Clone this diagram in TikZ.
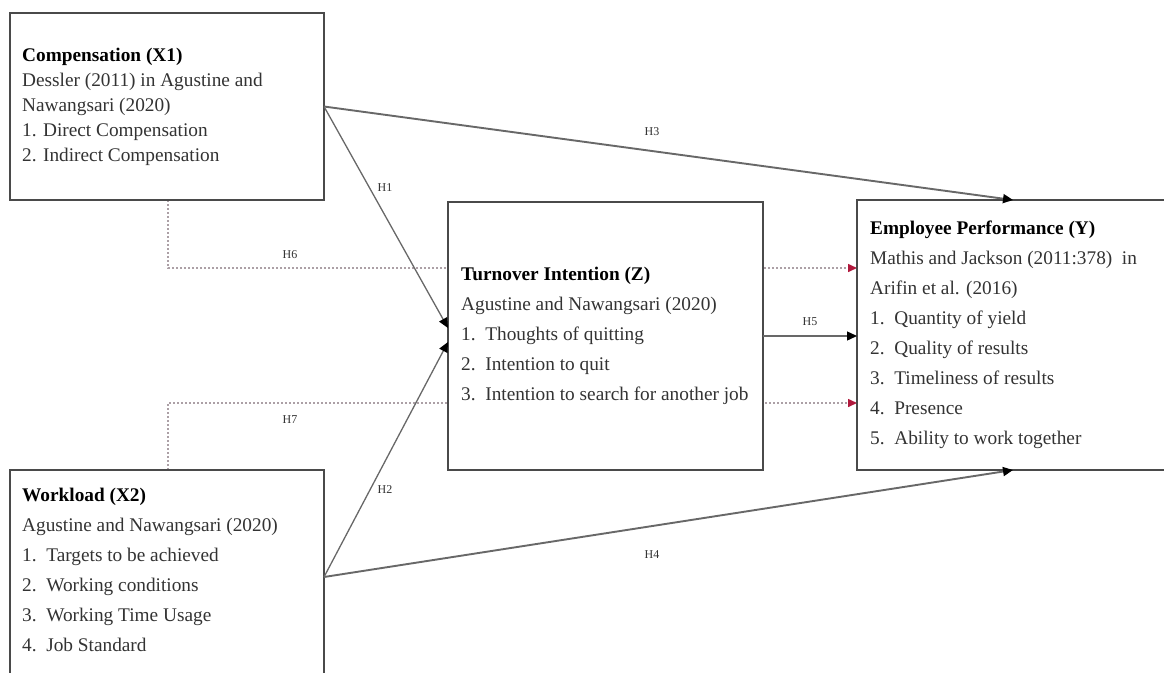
\documentclass[tikz,border=0pt]{standalone}
\usepackage{fontspec}
\setmainfont{Liberation Serif}
\usetikzlibrary{arrows.meta,backgrounds}
\definecolor{boxline}{HTML}{4A4A4A}
\definecolor{txt}{HTML}{333333}
\definecolor{dotc}{HTML}{ACA0A6}
\definecolor{redtip}{HTML}{B0183C}
\definecolor{conn}{HTML}{686868}
\begin{document}
\begin{tikzpicture}[x=1pt,y=-1pt,
  box/.style={draw=boxline, line width=1.8pt, fill=white, anchor=north west,
    outer sep=0pt, inner sep=0pt},
  boxtext/.style={anchor=west, align=left, text=txt, inner sep=0pt,
    font=\fontsize{19.3}{30}\selectfont},
  hlab/.style={font=\fontsize{12}{12}\selectfont, text=txt, inner sep=1pt},
  solidarrow/.style={draw=conn, line width=1.3pt,
    -{Triangle[length=10pt,width=9pt,color=black]}},
  longarrow/.style={draw=conn, line width=1.9pt,
    -{Triangle[length=10pt,width=9pt,color=black]}},
  dotline/.style={draw=dotc, line width=1.5pt, dash pattern=on 2pt off 2pt,
    -{Triangle[length=9pt,width=8pt,color=redtip]}}
]
\useasboundingbox (0,0) rectangle (1164,672);
\clip (0,0) rectangle (1164,672);

% boxes
\node[box, minimum width=314pt, minimum height=187pt] (X1) at (10,13) {};
\node[box, minimum width=314pt, minimum height=214pt] (X2) at (10,470) {};
\node[box, minimum width=315pt, minimum height=268pt] (Z) at (448,202) {};
\node[box, minimum width=318pt, minimum height=270pt] (Y) at (857,200) {};

% texts
\node[boxtext, font=\fontsize{19.3}{25}\selectfont] (X1t) at ([xshift=12pt]X1.west)
  {{\bfseries\color{black}Compensation (X1)}\\
   Dessler (2011) in Agustine and\\
   Nawangsari (2020)\\
   1. Direct Compensation\\
   2. Indirect Compensation};
\node[boxtext] (X2t) at ([xshift=12pt, yshift=7pt]X2.west)
  {{\bfseries\color{black}Workload (X2)}\\
   Agustine and Nawangsari (2020)\\
   1.\hspace{0.5em}Targets to be achieved\\
   2.\hspace{0.5em}Working conditions\\
   3.\hspace{0.5em}Working Time Usage\\
   4.\hspace{0.5em}Job Standard};
\node[boxtext] (Zt) at ([xshift=13pt]Z.west)
  {{\bfseries\color{black}Turnover Intention (Z)}\\
   Agustine and Nawangsari (2020)\\
   1.\hspace{0.5em}Thoughts of quitting\\
   2.\hspace{0.5em}Intention to quit\\
   3.\hspace{0.5em}Intention to search for another job};
\node[boxtext] (Yt) at ([xshift=13pt]Y.west)
  {{\bfseries\color{black}Employee Performance (Y)}\\
   Mathis and Jackson (2011:378)\hspace{0.5em}in\\
   Arifin et al. (2016)\\
   1.\hspace{0.5em}Quantity of yield\\
   2.\hspace{0.5em}Quality of results\\
   3.\hspace{0.5em}Timeliness of results\\
   4.\hspace{0.5em}Presence\\
   5.\hspace{0.5em}Ability to work together};

% dotted moderation paths (behind the boxes)
\begin{scope}[on background layer]
  \draw[dotline] ([xshift=158pt]X1.south west) |- ([yshift=67pt]Y.west);
  \draw[dotline] ([xshift=158pt]X2.north west) |- ([yshift=-68pt]Y.west);
\end{scope}

% solid paths
\draw[solidarrow] (X1.east) -- ([yshift=8pt]Z.west);
\draw[solidarrow] (X2.east) -- ([yshift=-6pt]Z.west);
\draw[longarrow] (X1.east) -- ([xshift=156pt]Y.north west);
\draw[longarrow] (X2.east) -- ([xshift=156pt]Y.south west);
\draw[solidarrow] (Z.east) -- (Z.east -| Y.west);

% labels
\node[hlab] (L1) at (385,188) {H1};
\node[hlab] (L2) at (385,490) {H2};
\node[hlab] (L3) at (652,132) {H3};
\node[hlab] (L4) at (652,555) {H4};
\node[hlab] (L5) at (810,322) {H5};
\node[hlab] (L6) at (290,255) {H6};
\node[hlab] (L7) at (290,420) {H7};
\end{tikzpicture}
\end{document}
